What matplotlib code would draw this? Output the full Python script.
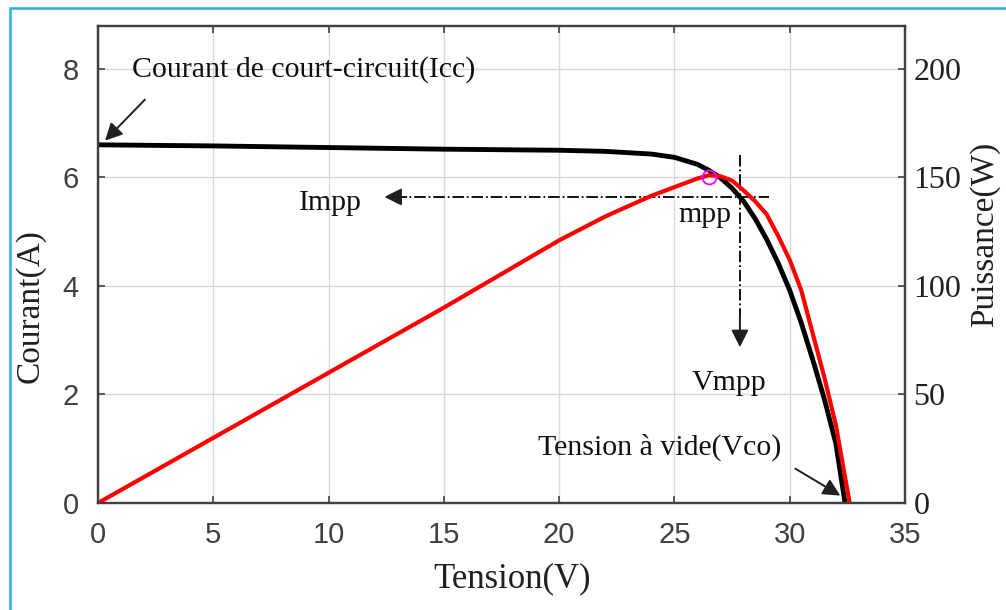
import numpy as np
import matplotlib.pyplot as plt
from matplotlib.patches import Rectangle

# Courbe I(V) du module PV
tension_i = [0, 5, 10, 15, 20, 22, 24, 25, 26, 26.5, 27, 27.5, 28, 28.5,
             29, 29.5, 30, 30.5, 31, 31.5, 32, 32.4]
courant = [6.6, 6.58, 6.55, 6.52, 6.5, 6.48, 6.43, 6.37, 6.24, 6.13, 5.99,
           5.8, 5.56, 5.24, 4.86, 4.42, 3.92, 3.32, 2.64, 1.92, 1.1, 0.0]

# Courbe P(V)
tension_p = [0, 5, 10, 15, 20, 22, 24, 25, 26, 26.5, 27, 27.5, 28, 28.5,
             29, 29.5, 30, 30.5, 31, 31.5, 32, 32.6]
puissance = [0, 30, 60, 90, 121, 132, 141.5, 145.5, 149.5, 151, 150.5, 148.5, 144, 139,
             133, 123, 112, 98, 78, 58, 36, 0]

# Point de puissance maximale
v_mpp_point = 26.5
p_mpp_point = 150
impp = 5.64
vmpp = 27.84

x_ticks = [0, 5, 10, 15, 20, 25, 30, 35]
i_ticks = [0, 2, 4, 6, 8]
p_ticks = [0, 50, 100, 150, 200]

SERIF = 'Liberation Serif'
SANS = 'Liberation Sans'

fig = plt.figure(figsize=(10.06, 6.10), dpi=100)
ax = fig.add_axes([0.0974, 0.1754, 0.8022, 0.782])
ax2 = ax.twinx()

# cadre bleu autour de la figure
fig.patches.append(Rectangle((10 / 1006, -0.05), 1.1, 1 - 8 / 610 + 0.05,
                             transform=fig.transFigure, fill=False,
                             edgecolor='#1fb2ee', linewidth=1.8))

ax.plot(tension_i, courant, color='black', linewidth=3.5, solid_capstyle='butt')
ax2.plot(tension_p, puissance, color='red', linewidth=3.0)
ax2.plot([v_mpp_point], [p_mpp_point], 'o', markersize=10, markerfacecolor='none',
         markeredgecolor='magenta', markeredgewidth=1.3)

ax.set_xlim(0, 35)
ax.set_ylim(0, 8.79)
ax2.set_ylim(0, 8.79 * 25)

ax.set_xticks(x_ticks)
ax.set_yticks(i_ticks)
ax2.set_yticks(p_ticks)
ax.grid(True, color='#d8d8d8', linewidth=1.0)
ax.set_axisbelow(True)

for a in (ax, ax2):
    for s in a.spines.values():
        s.set_color('#404040')
        s.set_linewidth(1.6)

ax.tick_params(axis='both', direction='in', length=5, width=1.2, colors='#404040',
               top=True, labelsize=21, pad=14)
ax.tick_params(axis='x', pad=13)
for lab in ax.get_xticklabels() + ax.get_yticklabels():
    lab.set_fontfamily(SANS)
    lab.set_color('#404040')
ax2.tick_params(axis='y', direction='in', length=5, width=1.2, colors='#404040',
                labelsize=23, pad=6)
for lab in ax2.get_yticklabels():
    lab.set_fontfamily(SERIF)
    lab.set_color('#202020')

ax.set_xlabel('Tension(V)', fontsize=25, fontfamily=SERIF, color='#202020')
ax.xaxis.set_label_coords(0.513, -0.125)
fig.text(0.030, 1 - 306 / 610, 'Courant(A)', rotation=90, fontsize=24, fontfamily=SERIF,
         color='#202020', ha='center', va='center')
fig.text(0.979, 1 - 234 / 610, 'Puissance(W)', rotation=90, fontsize=24, fontfamily=SERIF,
         color='#202020', ha='center', va='center')

# annotations
txt = dict(fontfamily=SERIF, color='#101010', fontsize=21.5)
arrow = dict(arrowstyle='-|>', color='#202020', lw=1.4, mutation_scale=26)

ax.text(1.47, 7.98, 'Courant de court-circuit(Icc)', ha='left', va='center', **txt)
ax.annotate('', xy=(0.22, 6.64), xytext=(2.12, 7.47), arrowprops=arrow)

ax.plot([12.9, 29.1], [impp, impp], color='black', linestyle='-.', linewidth=1.3)
ax.annotate('', xy=(12.3, impp), xytext=(13.5, impp), arrowprops=arrow)
ax.text(8.7, 5.53, 'Impp', ha='left', va='center', **txt)

ax.plot([vmpp, vmpp], [6.41, 3.4], color='black', linestyle='-.', linewidth=1.3)
ax.annotate('', xy=(vmpp, 2.82), xytext=(vmpp, 3.5), arrowprops=arrow)
ax.text(26.3, 5.31, 'mpp', ha='center', va='center', **txt)
ax.text(27.36, 2.21, 'Vmpp', ha='center', va='center', **txt)

ax.text(19.1, 1.03, 'Tension à vide(Vco)', ha='left', va='center', **txt)
ax.annotate('', xy=(32.3, 0.11), xytext=(30.14, 0.66), arrowprops=arrow)

fig.savefig('out.png', dpi=100)
